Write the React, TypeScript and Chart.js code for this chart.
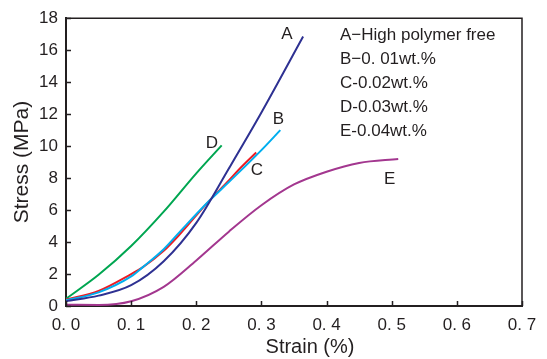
import { useEffect, useRef } from "react";
import { Chart, registerables } from "chart.js";

Chart.register(...registerables);

// Stress–strain curves (strain in %, stress in MPa)
const strainA = [0, 0.05, 0.1, 0.15, 0.2, 0.25, 0.3, 0.364];
const stressA = [0.3, 0.65, 1.3, 2.8, 5.2, 8.6, 12.1, 16.85];

const strainB = [0, 0.05, 0.1, 0.117, 0.15, 0.175, 0.218, 0.25, 0.3, 0.329];
const stressB = [0.35, 0.85, 1.85, 2.4, 3.55, 4.65, 6.5, 7.75, 9.75, 11.0];

const strainC = [0, 0.05, 0.1, 0.117, 0.15, 0.175, 0.218, 0.25, 0.267, 0.292];
const stressC = [0.4, 0.95, 2.0, 2.4, 3.45, 4.5, 6.5, 7.85, 8.6, 9.6];

const strainD = [0, 0.05, 0.1, 0.15, 0.2, 0.239];
const stressD = [0.45, 1.95, 3.75, 5.9, 8.3, 10.05];

const strainE = [0, 0.05, 0.1, 0.15, 0.2, 0.25, 0.3, 0.35, 0.4, 0.45, 0.51];
const stressE = [0.08, 0.07, 0.3, 1.2, 2.85, 4.65, 6.3, 7.6, 8.4, 8.95, 9.2];

const seriesColors = ["#2e3192", "#00aeef", "#ed1c24", "#00a651", "#a3378f"];

// Letters placed next to each curve end
const curveLetters = ["A", "B", "C", "D", "E"];
const letterStrain = [0.339, 0.326, 0.293, 0.224, 0.497];
const letterStress = [16.97, 11.68, 8.46, 10.16, 7.95];

const legendLines = [
  "A\u2212High polymer free",
  "B\u22120. 01wt.%",
  "C-0.02wt.%",
  "D-0.03wt.%",
  "E-0.04wt.%",
];

const xTickValues = [0, 0.1, 0.2, 0.3, 0.4, 0.5, 0.6, 0.7];
const xTickLabels = ["0. 0", "0. 1", "0. 2", "0. 3", "0. 4", "0. 5", "0. 6", "0. 7"];
const yTickValues = [0, 2, 4, 6, 8, 10, 12, 14, 16, 18];

const INK = "#231f20";
const FONT = "'Liberation Sans', Arial, Helvetica, sans-serif";

const toPoints = (xs: number[], ys: number[]) => xs.map((x, i) => ({ x, y: ys[i] }));

const overlay = {
  id: "overlay",
  afterDraw(chart: any) {
    const { ctx, chartArea: a } = chart;
    const xs = chart.scales.x;
    const ys = chart.scales.y;
    ctx.save();
    ctx.strokeStyle = INK;

    // top and right edges of the frame
    ctx.lineWidth = 1.5;
    ctx.beginPath();
    ctx.moveTo(a.left, a.top);
    ctx.lineTo(a.right, a.top);
    ctx.lineTo(a.right, a.bottom);
    ctx.stroke();

    // inward tick marks
    ctx.lineWidth = 1.5;
    ctx.beginPath();
    xTickValues.forEach((v) => {
      const px = Math.round(xs.getPixelForValue(v)) + 0.5;
      ctx.moveTo(px, a.bottom);
      ctx.lineTo(px, a.bottom - 5);
    });
    yTickValues.forEach((v) => {
      const py = Math.round(ys.getPixelForValue(v)) + 0.5;
      ctx.moveTo(a.left, py);
      ctx.lineTo(a.left + 5, py);
    });
    ctx.stroke();

    ctx.fillStyle = INK;
    ctx.font = `17px ${FONT}`;
    ctx.textBaseline = "middle";

    // curve letters
    ctx.textAlign = "center";
    curveLetters.forEach((t, i) => {
      ctx.fillText(t, xs.getPixelForValue(letterStrain[i]), ys.getPixelForValue(letterStress[i]));
    });

    // legend block
    ctx.textAlign = "left";
    legendLines.forEach((t, i) => {
      ctx.fillText(t, a.left + 274, a.top + 17 + i * 24);
    });

    // x-axis title
    ctx.font = `20px ${FONT}`;
    ctx.textAlign = "center";
    ctx.textBaseline = "alphabetic";
    ctx.fillText("Strain (%)", a.left + 244, 353);

    ctx.restore();
  },
};

export default function App() {
  const canvasRef = useRef<HTMLCanvasElement | null>(null);

  useEffect(() => {
    if (!canvasRef.current) return;
    const chart = new Chart(canvasRef.current, {
      type: "line",
      data: {
        datasets: [
          { label: "A", data: toPoints(strainA, stressA) },
          { label: "B", data: toPoints(strainB, stressB) },
          { label: "C", data: toPoints(strainC, stressC) },
          { label: "D", data: toPoints(strainD, stressD) },
          { label: "E", data: toPoints(strainE, stressE) },
        ].map((d, i) => ({
          ...d,
          borderColor: seriesColors[i],
          backgroundColor: seriesColors[i],
          borderWidth: 2,
          pointRadius: 0,
          fill: false,
          cubicInterpolationMode: "monotone" as const,
        })),
      },
      options: {
        animation: false,
        responsive: true,
        maintainAspectRatio: false,
        layout: { padding: { top: 17, right: 25, left: 0, bottom: 0 } },
        plugins: { legend: { display: false }, tooltip: { enabled: false } },
        scales: {
          x: {
            type: "linear",
            min: 0,
            max: 0.7,
            grid: { display: false, drawTicks: false },
            border: { display: true, color: INK, width: 2 },
            ticks: {
              stepSize: 0.1,
              padding: 9,
              color: INK,
              font: { family: FONT, size: 17 },
              callback: (v: any) => xTickLabels[Math.round(Number(v) * 10)],
            },
            afterFit: (s: any) => {
              s.height = 53;
            },
          },
          y: {
            type: "linear",
            min: 0,
            max: 18,
            grid: { display: false, drawTicks: false },
            border: { display: true, color: INK, width: 2 },
            ticks: {
              stepSize: 2,
              padding: 8,
              color: INK,
              font: { family: FONT, size: 17 },
            },
            title: {
              display: true,
              text: "Stress (MPa)",
              color: INK,
              font: { family: FONT, size: 21, lineHeight: 1 },
              padding: { top: 12, bottom: 0 },
            },
            afterFit: (s: any) => {
              s.width = 66;
            },
          },
        },
      },
      plugins: [overlay],
    });
    return () => chart.destroy();
  }, []);

  return (
    <div style={{ position: "absolute", left: 0, top: 0, width: 547, height: 359, background: "#fff" }}>
      <canvas ref={canvasRef} />
    </div>
  );
}
